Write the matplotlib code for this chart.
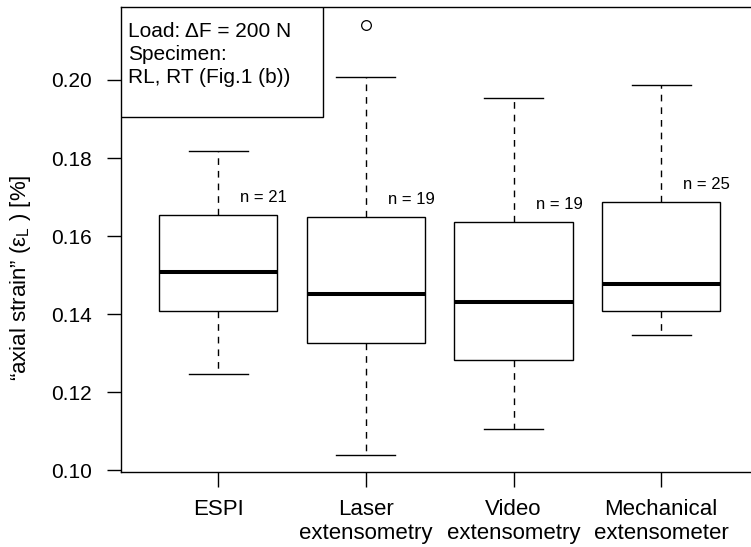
import matplotlib
matplotlib.use('Agg')
import matplotlib.pyplot as plt
from matplotlib.patches import Rectangle

plt.rcParams['font.family'] = ['Liberation Sans', 'DejaVu Sans']
plt.rcParams['mathtext.fontset'] = 'custom'
plt.rcParams['mathtext.rm'] = 'Liberation Sans'
plt.rcParams['mathtext.it'] = 'Liberation Sans:italic'

# data
metodos = ['ESPI', 'Laser\nextensometry', 'Video\nextensometry', 'Mechanical\nextensometer']
n_amostras = [21, 19, 19, 25]
bigode_inf = [0.1248, 0.1040, 0.1105, 0.1348]
quartil_1 = [0.1407, 0.1326, 0.1283, 0.1407]
mediana = [0.1507, 0.1451, 0.1432, 0.1478]
quartil_3 = [0.1654, 0.1650, 0.1637, 0.1688]
bigode_sup = [0.1818, 0.2008, 0.1953, 0.1987]
outliers = [[], [0.2142], [], []]
y_ticks = [0.10, 0.12, 0.14, 0.16, 0.18, 0.20]
legenda = ['Load: ΔF = 200 N', 'Specimen:', 'RL, RT (Fig.1 (b))']

W, H = 751, 547
fig = plt.figure(figsize=(W / 100, H / 100), dpi=100)
ax_l, ax_r, ax_t, ax_b = 120.7, 758.7, 7.3, 472.0
ax = fig.add_axes([ax_l / W, 1 - ax_b / H, (ax_r - ax_l) / W, (ax_b - ax_t) / H])

stats = []
for i in range(len(metodos)):
    stats.append(dict(whislo=bigode_inf[i], q1=quartil_1[i], med=mediana[i],
                      q3=quartil_3[i], whishi=bigode_sup[i], fliers=outliers[i]))

pos = list(range(1, len(metodos) + 1))
ax.bxp(stats, positions=pos, widths=0.8, capwidths=0.4, patch_artist=True,
       boxprops=dict(facecolor='white', edgecolor='black', linewidth=1.0),
       whiskerprops=dict(color='black', linewidth=1.0, linestyle=(0, (4.8, 4.3))),
       capprops=dict(color='black', linewidth=1.0),
       medianprops=dict(color='black', linewidth=2.9, solid_capstyle='butt'),
       flierprops=dict(marker='o', markerfacecolor='none', markeredgecolor='black',
                       markersize=7, markeredgewidth=0.9))

for i, n in enumerate(n_amostras):
    ax.text(pos[i] + 0.15, quartil_3[i] + 0.0044, f'n = {n}', fontsize=12,
            ha='left', va='center')

todos = bigode_inf + bigode_sup + [v for o in outliers for v in o]
rng = max(todos) - min(todos)
ax.set_ylim(min(todos) - 0.04 * rng, max(todos) + 0.04 * rng)
ax.set_xlim(0.5 - 0.04 * len(metodos), len(metodos) + 0.5 + 0.04 * len(metodos))

ax.set_yticks(y_ticks)
ax.set_yticklabels([f'{v:.2f}' for v in y_ticks], fontsize=15)
ax.set_xticks(pos)
ax.set_xticklabels(metodos, fontsize=16, linespacing=1.2)
ax.tick_params(axis='y', length=10, width=1.0, pad=10.5)
ax.tick_params(axis='x', length=11, width=1.0, pad=8.5)
for s in ['top', 'left', 'bottom']:
    ax.spines[s].set_linewidth(1.0)
ax.spines['right'].set_visible(False)

# caixa de legenda no canto superior esquerdo
larg = (322.7 - ax_l) / (ax_r - ax_l)
alt = (116.7 - ax_t) / (ax_b - ax_t)
ax.add_patch(Rectangle((0, 1 - alt), larg, alt, transform=ax.transAxes,
                       facecolor='white', edgecolor='black', linewidth=1.0, zorder=5))
for k, linha in enumerate(legenda):
    yb = [36.7, 59.5, 82.5][k]
    ax.text((128.3 - ax_l) / (ax_r - ax_l), (ax_b - yb) / (ax_b - ax_t), linha,
            transform=ax.transAxes, fontsize=15, ha='left', va='baseline', zorder=6)

fig.text(21 / W, 1 - 278 / H, r'“axial strain” (ε$_{\mathrm{L}}$ ) [%]', rotation=90,
         fontsize=16, ha='center', va='center')

plt.savefig('out.png', dpi=100)
plt.close()
